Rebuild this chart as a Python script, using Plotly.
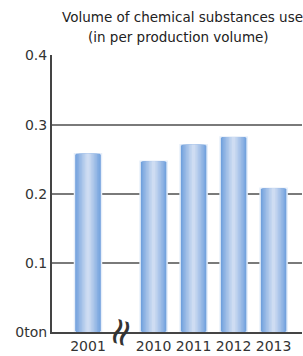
import plotly.graph_objects as go

# ---- data ----
years = ["2001", "2010", "2011", "2012", "2013"]
values = [0.258, 0.247, 0.271, 0.282, 0.208]
y_tick_vals = [0, 0.1, 0.2, 0.3, 0.4]
y_tick_text = ["0ton", "0.1", "0.2", "0.3", "0.4"]
title_line1 = "Volume of chemical substances use"
title_line2 = "(in per production volume)"

# x positions: broken axis between 2001 and 2010
break_gap = 0.64
xpos = [i + (break_gap if i > 0 else 0) for i in range(len(years))]

FONT = "DejaVu Sans, Arial, sans-serif"

def mix(c1, c2, t):
    return "rgb(%d,%d,%d)" % tuple(round(a + (b - a) * t) for a, b in zip(c1, c2))

edge = (108, 157, 219)
center = (206, 220, 242)

fig = go.Figure()
n_layers = 9
full_w = 0.675
for k in range(n_layers):
    t = k / (n_layers - 1)
    w = full_w * (1 - 0.88 * t)
    fig.add_trace(go.Bar(
        x=xpos, y=values, width=w,
        marker=dict(color=mix(edge, center, t ** 0.9),
                    line=dict(color="#e6eef9" if k == 0 else "rgba(0,0,0,0)", width=1.5 if k == 0 else 0)),
        hoverinfo="skip",
        showlegend=False,
    ))

fig.update_layout(
    barmode="overlay",
    width=303, height=356,
    margin=dict(l=52, r=1, t=55, b=24),
    plot_bgcolor="white", paper_bgcolor="white",
    font=dict(family=FONT, size=14, color="#333"),
    xaxis=dict(
        range=[-0.9, 5.35],
        tickmode="array", tickvals=xpos, ticktext=years,
        showgrid=False, zeroline=False,
        showline=True, linecolor="#444", linewidth=2,
        ticks="", tickfont=dict(size=14, color="#333"),
    ),
    yaxis=dict(
        range=[0, 0.4008],
        tickmode="array", tickvals=y_tick_vals, ticktext=y_tick_text,
        showgrid=True, gridcolor="#7a7a7a", gridwidth=1.5,
        zeroline=False,
        showline=True, linecolor="#444", linewidth=2,
        ticks="", tickfont=dict(size=14, color="#333"),
    ),
    annotations=[
        dict(text=title_line1, xref="paper", yref="paper", x=0.52, y=1.137,
             xanchor="center", yanchor="middle", showarrow=False,
             font=dict(size=13.5, color="#222", family=FONT)),
        dict(text=title_line2, xref="paper", yref="paper", x=0.506, y=1.065,
             xanchor="center", yanchor="middle", showarrow=False,
             font=dict(size=13.5, color="#222", family=FONT)),
        dict(text="\u2248", xref="x", yref="paper", textangle=-72,
             x=(xpos[0] + xpos[1]) / 2 - 0.02, y=0.0,
             xanchor="center", yanchor="middle", showarrow=False,
             font=dict(size=38, color="#333", family=FONT)),
    ],
)

fig.write_html(
    "out.html",
    config={"displayModeBar": False},
    post_script="document.body.style.margin='0';document.body.style.padding='0';",
)
